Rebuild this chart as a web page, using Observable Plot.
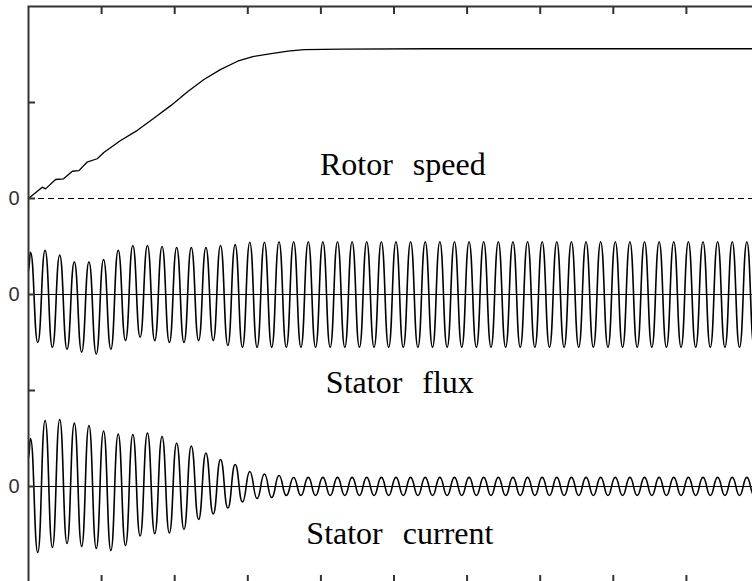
<!DOCTYPE html>
<html>
<head>
<meta charset="utf-8">
<script src="https://cdn.jsdelivr.net/npm/d3@7"></script>
<script src="https://cdn.jsdelivr.net/npm/@observablehq/plot@0.6"></script>
<style>
html, body { margin: 0; padding: 0; background: #fff; overflow: hidden; }
#chart svg { display: block; max-width: none; }
</style>
</head>
<body>
<div id="chart"></div>
<script>
// ---- tick values ----
const xTicks = [0.1, 0.2, 0.3, 0.4, 0.5, 0.6, 0.7, 0.8, 0.9, 1.0];
const yTicks = [1, 2, 3, 4, 5];
const zeroLevels = [4, 3, 1];          // panel zero lines that carry a "0" label
const zeroLabel = "0";

// ---- panel baselines (in divisions) ----
const speedBase = 4;
const fluxBase = 3;
const currentBase = 1;

// ---- rotor speed (time s, value in divisions above its zero) ----
const speedTime  = [0, 0.0188, 0.0233, 0.037, 0.048, 0.060, 0.069, 0.080, 0.094, 0.103, 0.126, 0.149, 0.171, 0.195, 0.218, 0.240, 0.263, 0.286, 0.308, 0.332, 0.355, 0.377, 0.43, 0.55, 1.0];
const speedValue = [0, 0.118, 0.100, 0.198, 0.205, 0.284, 0.290, 0.378, 0.414, 0.48, 0.604, 0.71, 0.833, 0.97, 1.115, 1.24, 1.345, 1.43, 1.48, 1.51, 1.535, 1.55, 1.555, 1.56, 1.56];

// ---- sampling of the 50 Hz waves: time of first positive peak and period ----
const firstPeakTime = 0.0027;
const period = 0.02;

// ---- stator flux: value at t=0, then positive peak and negative trough of each cycle ----
const fluxStart = 0.25;
const fluxPeaks = [0.44, 0.46, 0.41, 0.34, 0.34, 0.365, 0.46, 0.51, 0.51, 0.50,
                   0.49, 0.49, 0.49, 0.51, 0.52, 0.545, 0.545, 0.55, 0.55, 0.55,
                   0.55, 0.55, 0.55, 0.55, 0.55, 0.55, 0.55, 0.55, 0.55, 0.55,
                   0.55, 0.55, 0.55, 0.55, 0.55, 0.55, 0.55, 0.55, 0.55, 0.55,
                   0.55, 0.55, 0.55, 0.55, 0.55, 0.55, 0.55, 0.55, 0.55, 0.55];
const fluxTroughs = [-0.50, -0.55, -0.57, -0.60, -0.62, -0.57, -0.48, -0.445, -0.48, -0.50,
                     -0.50, -0.48, -0.48, -0.53, -0.55, -0.55, -0.55, -0.55, -0.55, -0.55,
                     -0.55, -0.55, -0.55, -0.55, -0.55, -0.55, -0.55, -0.55, -0.55, -0.55,
                     -0.55, -0.55, -0.55, -0.55, -0.55, -0.55, -0.55, -0.55, -0.55, -0.55,
                     -0.55, -0.55, -0.55, -0.55, -0.55, -0.55, -0.55, -0.55, -0.55, -0.55];

// ---- stator current ----
const currentStart = 0.30;
const currentPeaks = [0.50, 0.6875, 0.698, 0.66, 0.635, 0.578, 0.547, 0.542, 0.557, 0.521,
                      0.453, 0.422, 0.349, 0.281, 0.229, 0.156, 0.130, 0.115, 0.094, 0.095,
                      0.095, 0.095, 0.095, 0.095, 0.095, 0.095, 0.095, 0.095, 0.095, 0.095,
                      0.095, 0.095, 0.095, 0.095, 0.095, 0.095, 0.095, 0.095, 0.095, 0.095,
                      0.095, 0.095, 0.095, 0.095, 0.095, 0.095, 0.095, 0.095, 0.095, 0.095];
const currentTroughs = [-0.6875, -0.635, -0.594, -0.625, -0.646, -0.667, -0.615, -0.516, -0.49, -0.484,
                        -0.448, -0.344, -0.286, -0.224, -0.161, -0.125, -0.115, -0.094, -0.094, -0.094,
                        -0.094, -0.094, -0.094, -0.094, -0.094, -0.094, -0.094, -0.094, -0.094, -0.094,
                        -0.094, -0.094, -0.094, -0.094, -0.094, -0.094, -0.094, -0.094, -0.094, -0.094,
                        -0.094, -0.094, -0.094, -0.094, -0.094, -0.094, -0.094, -0.094, -0.094, -0.094];

// ---- panel titles ----
const labels = ["Rotor speed", "Stator flux", "Stator current"];
const labelTime = [0.512, 0.508, 0.508];
const labelLevel = [4.24, 1.97, 0.406];

// ---- build tables ----
const speed = speedTime.map((t, i) => ({t, y: speedBase + speedValue[i]}));
function wave(start, peaks, troughs, base) {
  const pts = [{t: 0, y: base + start}];
  peaks.forEach((p, k) => {
    const tp = firstPeakTime + k * period;
    pts.push({t: tp, y: base + p});
    pts.push({t: tp + period / 2, y: base + troughs[k]});
  });
  return pts;
}
const flux = wave(fluxStart, fluxPeaks, fluxTroughs, fluxBase);
const current = wave(currentStart, currentPeaks, currentTroughs, currentBase);
const labelRows = labels.map((text, i) => ({text, t: labelTime[i], y: labelLevel[i]}));

const axisStyle = {stroke: "#333", strokeWidth: 2, tickSize: -7, tickFormat: () => "", label: null};

const chart = Plot.plot({
  width: 760,
  height: 583,
  marginLeft: 28,
  marginRight: 1,
  marginTop: 6,
  marginBottom: 1,
  x: {domain: [0, 1], axis: null, label: null},
  y: {domain: [0, 6], axis: null, label: null},
  style: {background: "#fff", maxWidth: "none", overflow: "visible"},
  marks: [
    Plot.ruleY([speedBase], {stroke: "#000", strokeWidth: 1.2, strokeDasharray: "6,4"}),
    Plot.ruleY([fluxBase, currentBase], {stroke: "#000", strokeWidth: 1.2}),
    Plot.line(speed, {x: "t", y: "y", stroke: "#000", strokeWidth: 1.3}),
    Plot.line(flux, {x: "t", y: "y", curve: "bump-x", stroke: "#000", strokeWidth: 1.6}),
    Plot.line(current, {x: "t", y: "y", curve: "bump-x", stroke: "#000", strokeWidth: 1.6}),
    Plot.text(labelRows, {x: "t", y: "y", text: "text", fontFamily: "'Liberation Serif', 'Times New Roman', serif",
      fontSize: 32, lineAnchor: "bottom", textAnchor: "middle", fill: "#000"}),
    Plot.frame({stroke: "#333", strokeWidth: 2}),
    Plot.axisX(xTicks, {anchor: "top", ...axisStyle}),
    Plot.axisX(xTicks, {anchor: "bottom", ...axisStyle}),
    Plot.axisY(yTicks, {anchor: "left", ...axisStyle}),
    Plot.axisY(yTicks, {anchor: "right", ...axisStyle}),
    Plot.text(zeroLevels, {y: d => d, frameAnchor: "left", dx: -9, textAnchor: "end", text: () => zeroLabel,
      fontSize: 20, fontFamily: "'Liberation Sans', Arial, sans-serif", fill: "#333"})
  ]
});
document.getElementById("chart").appendChild(chart);
// wider gaps between words of the panel titles
chart.querySelectorAll("text").forEach(t => {
  if (labels.includes(t.textContent)) t.style.wordSpacing = "12px";
});
</script>
</body>
</html>
